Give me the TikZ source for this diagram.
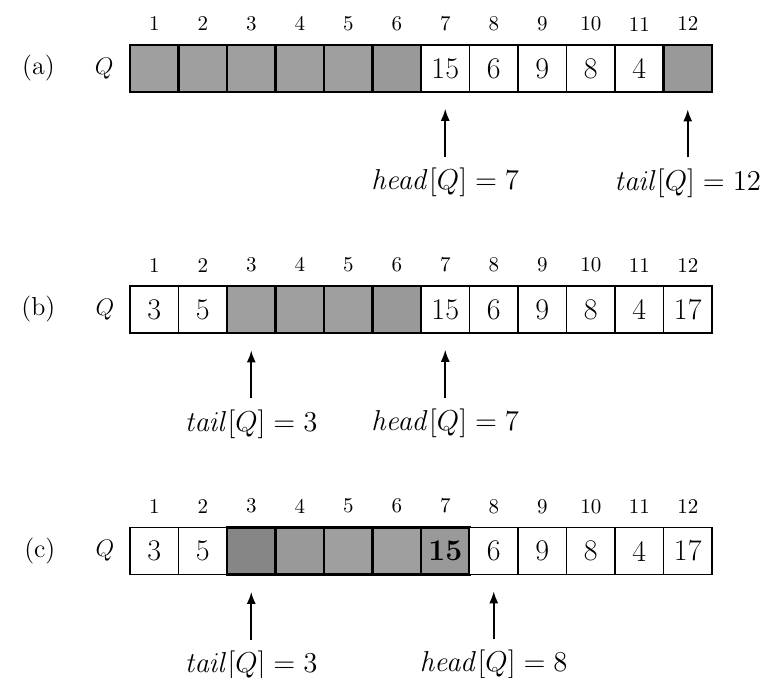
\documentclass[tikz,border=0pt]{standalone}
\usepackage{amsmath}
\usetikzlibrary{arrows.meta, positioning}

\begin{document}
\begin{tikzpicture}[
  x=0.5pt, y=-0.5pt,
  cell/.style={draw, thick, minimum width=24.25pt, minimum height=23.5pt, inner sep=0pt, font=\fontsize{15}{18}\selectfont},
  idx/.style={font=\fontsize{10.5}{12}\selectfont},
  lbl/.style={font=\fontsize{13}{16}\selectfont},
  ptr/.style={font=\fontsize{13.5}{16}\selectfont},
  arrow/.style={-{Latex[length=6pt, width=4.5pt]}, thick, shorten >=8pt, shorten <=2pt}
]
\useasboundingbox (0,0) rectangle (766,677);

\foreach \c/\w/\v [count=\i] in {gray!75/1.4/{}, gray!75/1.4/{}, gray!75/1.4/{}, gray!75/1.4/{}, gray!75/1.4/{}, gray!80/1.4/{},
    white/0.8/15, white/0.8/6, white/0.8/9, white/0.8/8, white/0.8/4, gray!80/1.4/{}} {
  \node[cell, fill=\c, line width=\w pt] (a\i) at (105.75+48.5*\i, 68.5) {\v};
  \node[idx, above=3pt of a\i] {\i};
}
\node[lbl, left=4pt of a1] (qa) {$Q$};
\node[lbl, left=13pt of qa] (la) {(a)};
\node[ptr, below=34pt of a7] (heada) {$\mathit{head}[Q] = 7$};
\node[ptr, below=34pt of a12] (taila) {$\mathit{tail}[Q] = 12$};
\draw[arrow] (heada) -- (a7);
\draw[arrow] (taila) -- (a12);

\foreach \c/\w/\v [count=\i] in {white/0.8/3, white/0.8/5, gray!75/1.4/{}, gray!75/1.4/{}, gray!75/1.4/{}, gray!80/1.4/{},
    white/0.8/15, white/0.8/6, white/0.8/9, white/0.8/8, white/0.8/4, white/0.8/17} {
  \node[cell, fill=\c, line width=\w pt] (b\i) at (105.75+48.5*\i, 309.5) {\v};
  \node[idx, above=3pt of b\i] {\i};
}
\node[lbl, left=4pt of b1] (qb) {$Q$};
\node[lbl, left=13pt of qb] (lb) {(b)};
\node[ptr, below=34pt of b3] (tailb) {$\mathit{tail}[Q] = 3$};
\node[ptr, below=34pt of b7] (headb) {$\mathit{head}[Q] = 7$};
\draw[arrow] (tailb) -- (b3);
\draw[arrow] (headb) -- (b7);

\foreach \c/\w/\v [count=\i] in {white/0.8/3, white/0.8/5, gray!95/1.4/{}, gray!80/1.4/{}, gray!75/1.4/{}, gray!75/1.4/{},
    gray!80/1.4/\textbf{15}, white/0.8/6, white/0.8/9, white/0.8/8, white/0.8/4, white/0.8/17} {
  \node[cell, fill=\c, line width=\w pt] (c\i) at (105.75+48.5*\i, 551) {\v};
  \node[idx, above=3pt of c\i] {\i};
}
\node[lbl, left=4pt of c1] (qc) {$Q$};
\node[lbl, left=13pt of qc] (lc) {(c)};
\node[ptr, below=34pt of c3] (tailc) {$\mathit{tail}[Q] = 3$};
\node[ptr, below=34pt of c8] (headc) {$\mathit{head}[Q] = 8$};
\draw[arrow] (tailc) -- (c3);
\draw[arrow] (headc) -- (c8);
\end{tikzpicture}
\end{document}
